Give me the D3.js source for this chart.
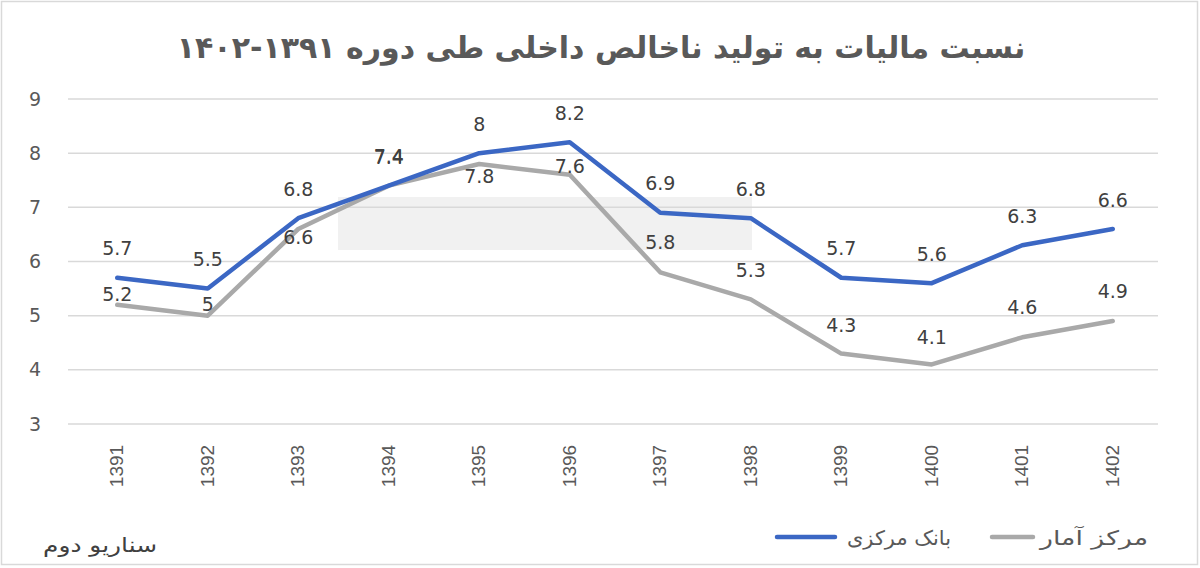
<!DOCTYPE html>
<html><head><meta charset="utf-8">
<script src="https://cdn.jsdelivr.net/npm/d3@7"></script>
<style>html,body{margin:0;padding:0;background:#fff;}svg{display:block;}</style>
</head><body>
<svg id="chart" width="1200" height="568"></svg>
<script>
const years = ["1391","1392","1393","1394","1395","1396","1397","1398","1399","1400","1401","1402"];
const bankMarkazi = [5.7,5.5,6.8,7.4,8,8.2,6.9,6.8,5.7,5.6,6.3,6.6];
const markazAmar = [5.2,5,6.6,7.4,7.8,7.6,5.8,5.3,4.3,4.1,4.6,4.9];
const yTicks = [3,4,5,6,7,8,9];
const titleText = "نسبت مالیات به تولید ناخالص داخلی طی دوره ۱۳۹۱-۱۴۰۲";
const seriesNames = ["بانک مرکزی","مرکز آمار"];
const footnote = "سناریو دوم";
// label vertical offsets (style) for grey series
const amarLabelDy = [-10,-11,8,-28,12,-8,-30,-29,-28,-27,-30,-30];

const svg = d3.select("#chart");
const W = 1200, H = 568;
svg.append("rect").attr("x",1.5).attr("y",1.5).attr("width",W-4).attr("height",H-5)
  .attr("fill","#fff").attr("stroke","#d9d9d9").attr("stroke-width",1.5);

const x = d3.scaleBand().domain(years).range([72,1158]);
const y = d3.scaleLinear().domain([3,9]).range([424,99]);

// watermark-like faint band
svg.append("rect").attr("x",338).attr("y",197).attr("width",414).attr("height",53).attr("fill","#f1f1f1");

// gridlines
svg.append("g").selectAll("line").data(yTicks).join("line")
  .attr("x1",68).attr("x2",1158).attr("y1",d=>y(d)).attr("y2",d=>y(d))
  .attr("stroke","#d9d9d9").attr("stroke-width",1.5);

// y tick labels
svg.append("g").selectAll("text").data(yTicks).join("text")
  .attr("x",35).attr("y",d=>y(d)).attr("dy","0.35em").attr("text-anchor","middle")
  .attr("font-family","DejaVu Sans, Verdana, sans-serif").attr("font-size",19).attr("fill","#595959")
  .text(d=>d);

// x labels rotated
svg.append("g").selectAll("text").data(years).join("text")
  .attr("transform",d=>`translate(${x(d)+x.bandwidth()/2+6},466) rotate(-90)`)
  .attr("text-anchor","middle")
  .attr("font-family","Liberation Sans, Arial, sans-serif").attr("font-size",19).attr("fill","#595959")
  .text(d=>d);

const line = d3.line().x((d,i)=>x(years[i])+x.bandwidth()/2).y(d=>y(d));
svg.append("path").datum(markazAmar).attr("d",line).attr("fill","none")
  .attr("stroke","#a9a9a9").attr("stroke-width",4.5).attr("stroke-linejoin","round").attr("stroke-linecap","round");
svg.append("path").datum(bankMarkazi).attr("d",line).attr("fill","none")
  .attr("stroke","#3b67c4").attr("stroke-width",4.5).attr("stroke-linejoin","round").attr("stroke-linecap","round");

const lblFont = "DejaVu Sans, Verdana, sans-serif";
svg.append("g").selectAll("text").data(markazAmar).join("text")
  .attr("x",(d,i)=>x(years[i])+x.bandwidth()/2).attr("y",(d,i)=>y(d)+amarLabelDy[i])
  .attr("dy","0.35em").attr("text-anchor","middle")
  .attr("font-family",lblFont).attr("font-size",19).attr("fill","#404040").text(d=>d);
svg.append("g").selectAll("text").data(bankMarkazi).join("text")
  .attr("x",(d,i)=>x(years[i])+x.bandwidth()/2).attr("y",d=>y(d)-29)
  .attr("dy","0.35em").attr("text-anchor","middle")
  .attr("font-family",lblFont).attr("font-size",19).attr("fill","#404040").text(d=>d);

// title
svg.append("text").attr("x",601).attr("y",58).attr("text-anchor","middle").attr("direction","rtl")
  .attr("font-family","DejaVu Sans, sans-serif").attr("font-weight","bold").attr("font-size",30)
  .attr("fill","#595959").text(titleText);

// legend (rtl: text-anchor start = right edge)
const legFont = "DejaVu Sans, sans-serif";
const leg = svg.append("g");
leg.append("line").attr("x1",777).attr("x2",835).attr("y1",537).attr("y2",537)
  .attr("stroke","#3b67c4").attr("stroke-width",4.5).attr("stroke-linecap","round");
leg.append("text").attr("x",951).attr("y",545).attr("text-anchor","start").attr("direction","rtl")
  .attr("font-family",legFont).attr("font-size",20).attr("fill","#595959")
  .attr("textLength",104).attr("lengthAdjust","spacingAndGlyphs").text(seriesNames[0]);
leg.append("line").attr("x1",992).attr("x2",1033).attr("y1",537).attr("y2",537)
  .attr("stroke","#a9a9a9").attr("stroke-width",4.5).attr("stroke-linecap","round");
leg.append("text").attr("x",1148).attr("y",545).attr("text-anchor","start").attr("direction","rtl")
  .attr("font-family",legFont).attr("font-size",20).attr("fill","#595959")
  .attr("textLength",108).attr("lengthAdjust","spacingAndGlyphs").text(seriesNames[1]);

svg.append("text").attr("x",157).attr("y",552).attr("text-anchor","start").attr("direction","rtl")
  .attr("font-family",legFont).attr("font-size",20).attr("fill","#404040")
  .attr("textLength",114).attr("lengthAdjust","spacingAndGlyphs").text(footnote);
</script>
</body></html>
